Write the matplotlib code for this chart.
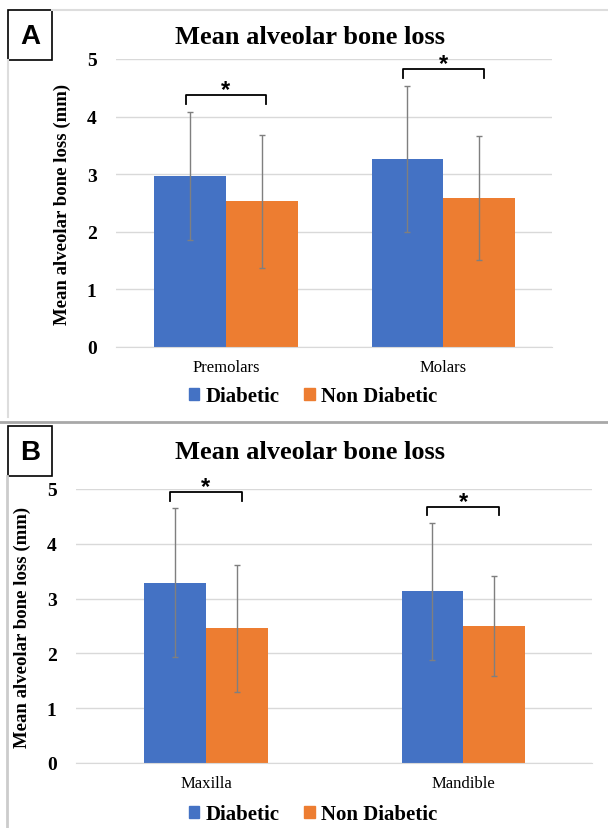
import numpy as np
import matplotlib
matplotlib.use("Agg")
import matplotlib.pyplot as plt
from matplotlib.patches import Rectangle
from matplotlib.lines import Line2D

# data
groups = ["Diabetic", "Non Diabetic"]
cats_a = ["Premolars", "Molars"]
diab_a = [2.97, 3.26]
diab_sd_a = [1.11, 1.27]
non_a = [2.53, 2.59]
non_sd_a = [1.15, 1.08]

cats_b = ["Maxilla", "Mandible"]
diab_b = [3.29, 3.13]
diab_sd_b = [1.36, 1.25]
non_b = [2.46, 2.50]
non_sd_b = [1.16, 0.91]

blue = "#4472C4"
orange = "#ED7D31"
W, H = 608, 829
serif = "Liberation Serif"
sans = "Liberation Sans"

fig = plt.figure(figsize=(W / 100, H / 100), dpi=100)


def fx(px):
    return px / W


def fy(py):
    return 1 - py / H


def panel(rect, cats, d, dsd, n, nsd, width, legend_y, title_y):
    ax = fig.add_axes(rect)
    x = np.arange(len(cats))
    ax.bar(x - width / 2, d, width, color=blue, zorder=2)
    ax.bar(x + width / 2, n, width, color=orange, zorder=2)
    ekw = dict(fmt="none", ecolor="#7F7F7F", elinewidth=1, capsize=2.5, capthick=1, zorder=3)
    ax.errorbar(x - width / 2, d, yerr=dsd, **ekw)
    ax.errorbar(x + width / 2, n, yerr=nsd, **ekw)

    # significance brackets
    for i in range(len(cats)):
        top = max(d[i] + dsd[i], n[i] + nsd[i]) + 0.3
        x0 = x[i] - width / 2 - 0.02
        x1 = x[i] + width / 2 + 0.02
        ax.plot([x0, x0, x1, x1], [top - 0.16, top, top, top - 0.16],
                color="black", lw=1.3, zorder=4, clip_on=False)
        ax.text((x0 + x1) / 2, top - 0.02, "*", ha="center", va="baseline",
                fontsize=17, fontweight="bold", family=sans, clip_on=False)

    ax.set_ylim(0, 5)
    ax.set_xlim(-0.505, 1.5)
    ax.set_yticks(range(6))
    ax.yaxis.grid(True, color="#D9D9D9", lw=1, zorder=0)
    ax.set_axisbelow(True)
    for s in ["top", "right", "left"]:
        ax.spines[s].set_visible(False)
    ax.spines["bottom"].set_color("#D9D9D9")
    ax.tick_params(axis="y", length=0, pad=14)
    ax.tick_params(axis="x", length=0, pad=9)
    ax.set_xticks(x)
    ax.set_xticklabels(cats, family=serif, fontsize=12)
    for lab in ax.get_yticklabels():
        lab.set_family(serif)
        lab.set_fontweight("bold")
        lab.set_fontsize(14)
    ax.set_ylabel("Mean alveolar bone loss (mm)", family=serif, fontweight="bold",
                  fontsize=13.5, labelpad=11)
    fig.text(fx(310), fy(title_y), "Mean alveolar bone loss", ha="center", va="center",
             family=serif, fontweight="bold", fontsize=19)
    handles = [Rectangle((0, 0), 1, 1, color=blue), Rectangle((0, 0), 1, 1, color=orange)]
    fig.legend(handles, groups, loc="center", bbox_to_anchor=(fx(313), fy(legend_y)),
               ncol=2, frameon=False, handlelength=0.5, handleheight=0.5,
               handletextpad=0.3, columnspacing=1.2,
               prop=dict(family=serif, weight="bold", size=15))
    return ax


ax_a = panel([fx(116), fy(348), fx(552) - fx(116), fy(60) - fy(348)],
             cats_a, diab_a, diab_sd_a, non_a, non_sd_a, 0.33, 397, 38)
ax_b = panel([fx(76), fy(764), fx(592) - fx(76), fy(490) - fy(764)],
             cats_b, diab_b, diab_sd_b, non_b, non_sd_b, 0.24, 815, 453)

# panel frames
fig.add_artist(Line2D([fx(52), fx(608)], [fy(11), fy(11)], color="#DDDDDD", lw=1.5))
fig.add_artist(Line2D([fx(8), fx(8)], [fy(61), fy(418)], color="#DDDDDD", lw=1.5))
fig.add_artist(Line2D([fx(0), fx(608)], [fy(423), fy(423)], color="#A8A8A8", lw=2))
fig.add_artist(Line2D([fx(7), fx(7)], [fy(477), fy(829)], color="#CCCCCC", lw=2))

for lbl, y0 in [("A", 11), ("B", 427)]:
    fig.add_artist(Rectangle((fx(8), fy(y0 + 50)), fx(44), 50 / H, fill=False,
                             edgecolor="black", lw=1.2))
    fig.text(fx(30), fy(y0 + 26), lbl, ha="center", va="center", family=sans,
             fontweight="bold", fontsize=20)

fig.savefig("out.png", dpi=100)
